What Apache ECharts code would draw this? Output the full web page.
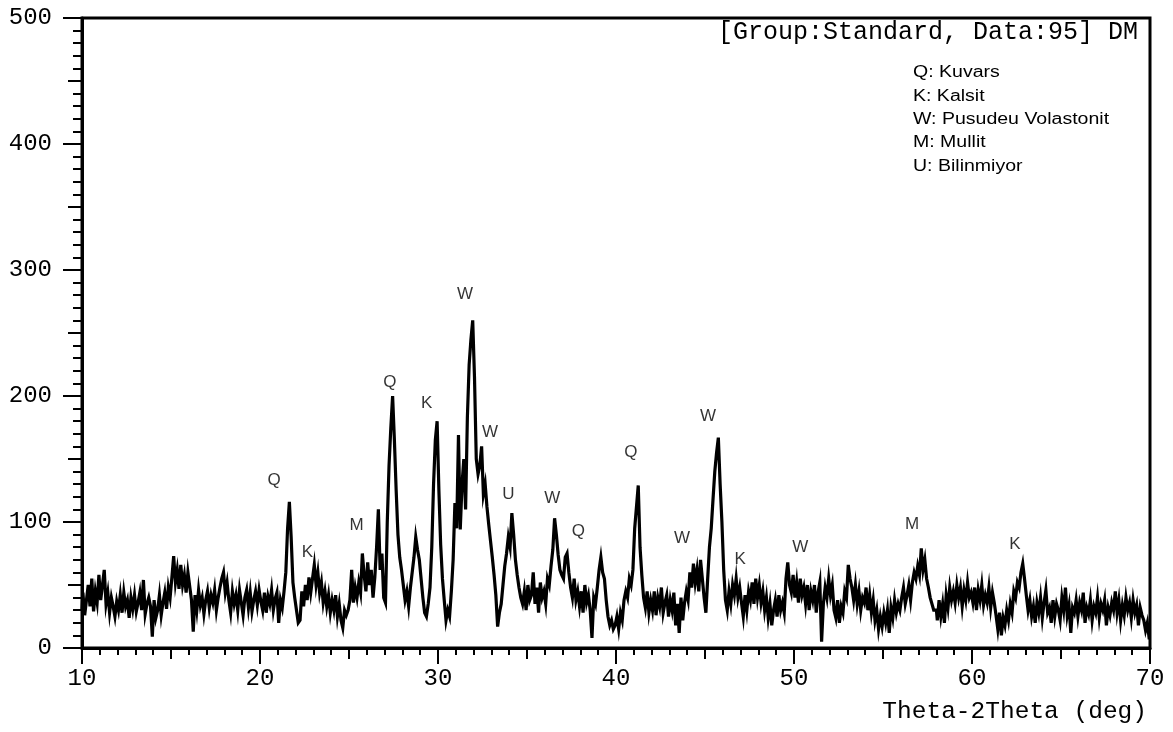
<!DOCTYPE html>
<html><head><meta charset="utf-8">
<script src="https://cdn.jsdelivr.net/npm/echarts@6/dist/echarts.min.js"></script>
<style>html,body{margin:0;padding:0;background:#fff}#c{width:1173px;height:732px}</style>
</head><body><div id="c"></div>
<script>
// ---- data (2-theta start, step 0.1 deg) ----
const thetaStart = 10;
const thetaStep = 0.1;
const counts10to20 = [
  30,44,26,38,50,33,55,29,45,36,
  58,38,50,62,35,44,28,40,33,25,
  37,30,42,28,44,33,38,24,40,31,
  42,29,36,44,30,54,27,35,40,33,
  9,38,24,30,42,26,36,44,31,48,
  40,56,73,52,62,47,66,50,58,44,
  60,49,38,13,42,30,46,34,40,27,
  38,45,32,42,36,46,30,40,48,55,
  60,44,52,38,28,45,35,42,30,46,
  36,26,40,46,32,44,29,38,45,34];
const counts20to30 = [
  46,37,30,44,28,41,35,46,30,39,
  44,20,38,32,45,60,95,116,88,52,
  40,30,20,22,45,33,50,38,56,44,
  55,66,50,60,44,52,36,45,33,42,
  28,38,30,42,25,35,22,16,30,26,
  30,38,62,36,48,40,52,44,75,58,
  45,68,50,62,40,56,80,110,62,75,
  40,36,100,145,175,200,165,125,90,72,
  62,50,38,45,33,48,60,72,88,78,
  70,55,40,28,25,35,48,80,130,165];
const counts30to40 = [
  180,125,82,55,38,22,30,25,45,70,
  115,95,169,94,130,150,110,183,225,245,
  260,215,150,138,145,160,122,130,112,98,
  85,72,58,42,17,28,35,50,65,75,
  88,80,107,90,70,58,48,40,35,45,
  30,50,38,42,60,35,48,28,52,40,
  45,35,55,50,65,78,103,90,74,62,
  58,55,72,75,60,48,40,55,38,45,
  33,45,28,50,36,42,30,8,40,35,
  48,62,72,60,55,38,25,18,22,15];
const counts40to50 = [
  18,25,15,28,22,38,45,40,55,50,
  62,95,112,129,80,58,40,32,45,28,
  38,30,45,26,40,33,48,28,36,42,
  25,38,30,44,18,35,12,40,22,36,
  45,38,60,48,67,52,62,45,70,55,
  40,28,55,80,95,118,140,155,167,130,
  100,62,38,30,45,35,50,42,55,40,
  48,36,25,42,30,45,38,52,35,55,
  40,50,36,45,30,40,24,35,18,30,
  38,25,42,30,36,28,55,68,50,44];
const counts50to60 = [
  58,40,52,36,55,42,48,35,50,30,
  45,38,50,28,44,52,5,35,48,40,
  55,42,50,30,24,38,20,33,28,45,
  40,66,55,48,38,50,35,45,30,40,
  36,48,30,42,28,38,22,30,15,25,
  17,28,20,30,12,32,24,38,28,35,
  30,40,48,35,42,50,38,52,60,55,
  65,58,79,62,70,55,48,40,35,30,
  30,22,38,25,35,20,42,32,48,38,
  45,36,50,40,48,33,46,38,52,40];
const counts60to70 = [
  44,36,48,30,46,38,50,34,42,36,
  48,32,44,36,26,15,28,10,24,18,
  30,22,35,28,45,40,52,48,60,67,
  55,42,30,38,25,33,20,36,28,40,
  24,36,46,28,32,20,38,25,35,30,
  22,40,30,48,26,34,12,32,28,38,
  25,36,30,44,20,32,27,38,22,33,
  28,40,24,35,30,38,18,32,26,36,
  30,45,28,38,22,34,26,40,30,36,
  24,38,28,34,18,32,26,22,14,20,
  8];

const peakLabelText   = ['Q','K','M','Q','K','W','W','U','W','Q','Q','W','W','K','W','M','K'];
const peakLabelTheta  = [20.79,22.66,25.43,27.3,29.37,31.52,32.92,33.95,36.42,37.88,40.84,43.71,45.17,46.98,50.35,56.64,62.41];
const peakLabelCounts = [133,76,97,211,194,281,171,122,119,93,155,87,184,70,80,98,82];

const legendLines = ['Q: Kuvars','K: Kalsit','W: Pusudeu Volastonit','M: Mullit','U: Bilinmiyor'];
const headerText = '[Group:Standard, Data:95] DM';
const xAxisTitle = 'Theta-2Theta (deg)';

// ---- build series ----
const allCounts = [].concat(counts10to20, counts20to30, counts30to40, counts40to50, counts50to60, counts60to70);
const pattern = allCounts.map((c, i) => [+(thetaStart + i * thetaStep).toFixed(2), c]);
const peakLabels = peakLabelText.map((t, i) => [peakLabelTheta[i], peakLabelCounts[i], t]);

const monoFont = 'Liberation Mono';
const chart = echarts.init(document.getElementById('c'), null, {renderer: 'canvas'});

const legendGraphics = legendLines.map((t, i) => ({
  type: 'text', x: 913, y: [73, 97, 120, 143, 167][i], scaleX: 1.22,
  style: {text: t, font: '16px "Liberation Sans"', fill: '#000', textVerticalAlign: 'middle', textAlign: 'left'}
}));

chart.setOption({
  animation: false,
  backgroundColor: '#fff',
  grid: {left: 82, right: 23, top: 18, bottom: 84, show: true, borderColor: '#000', borderWidth: 3, backgroundColor: 'transparent'},
  xAxis: [{
    type: 'value', min: 10, max: 70, interval: 10, position: 'bottom',
    axisLine: {show: true, lineStyle: {color: '#000', width: 3}},
    axisTick: {show: true, length: 16, lineStyle: {color: '#000', width: 2}},
    minorTick: {show: true, splitNumber: 10, length: 7, lineStyle: {color: '#000', width: 2}},
    axisLabel: {show: true, margin: 19, fontFamily: monoFont, fontSize: 24, color: '#000'},
    splitLine: {show: false}
  }, {
    type: 'value', min: 10, max: 70, interval: 5, position: 'bottom',
    axisLine: {show: false},
    axisTick: {show: true, length: 11, lineStyle: {color: '#000', width: 2}},
    axisLabel: {show: false}, splitLine: {show: false}
  }],
  yAxis: [{
    type: 'value', min: 0, max: 500, interval: 100, position: 'left',
    axisLine: {show: true, lineStyle: {color: '#000', width: 3}},
    axisTick: {show: true, length: 19, lineStyle: {color: '#000', width: 2}},
    minorTick: {show: true, splitNumber: 10, length: 9, lineStyle: {color: '#000', width: 2}},
    axisLabel: {show: true, margin: 30, fontFamily: monoFont, fontSize: 24, color: '#000'},
    splitLine: {show: false}
  }, {
    type: 'value', min: 0, max: 500, interval: 50, position: 'left', offset: 0,
    axisLine: {show: false},
    axisTick: {show: true, length: 14, lineStyle: {color: '#000', width: 2}},
    axisLabel: {show: false}, splitLine: {show: false}
  }],
  graphic: [
    {type: 'text', x: 1138, y: 32, style: {text: headerText, font: '25px "Liberation Mono"', fill: '#000', textAlign: 'right', textVerticalAlign: 'middle'}},
    {type: 'text', x: 1147, y: 712, style: {text: xAxisTitle, font: '24.5px "Liberation Mono"', fill: '#000', textAlign: 'right', textVerticalAlign: 'middle'}}
  ].concat(legendGraphics),
  series: [{
    type: 'line', xAxisIndex: 0, yAxisIndex: 0, data: pattern,
    showSymbol: false, symbol: 'none', step: 'middle', sampling: null,
    lineStyle: {color: '#000', width: 3.2, join: 'miter', cap: 'butt'}, z: 2
  }, {
    type: 'scatter', xAxisIndex: 0, yAxisIndex: 0, data: peakLabels,
    symbolSize: 0, z: 3,
    label: {show: true, position: 'inside', formatter: p => p.value[2],
      fontFamily: 'Liberation Sans', fontSize: 17, color: '#000', align: 'center', verticalAlign: 'middle'}
  }]
});
</script></body></html>
